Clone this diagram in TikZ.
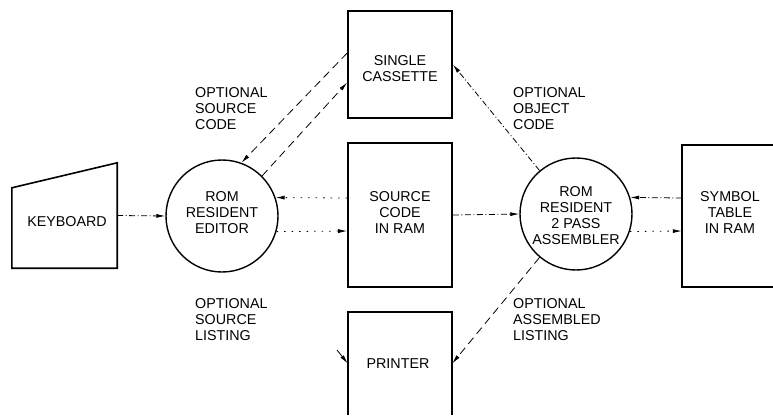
\documentclass[tikz,border=0pt]{standalone}
\usepackage{fontspec}
\setmainfont{Liberation Sans}
\usetikzlibrary{arrows.meta,calc}
\begin{document}
\begin{tikzpicture}[x=1pt,y=-1pt,
  box/.style={draw, line width=1.6pt, minimum width=104pt, inner sep=0pt},
  proc/.style={draw, circle, line width=1.4pt, minimum size=112pt, inner sep=0pt},
  txt/.style={font=\fontsize{14.3}{16}\selectfont, align=center, inner sep=0pt},
  lbl/.style={font=\fontsize{14.3}{16}\selectfont, align=left, inner sep=0pt, anchor=north west},
  conn/.style={line width=0.8pt, -{Latex[length=9pt,width=4pt]}},
  dashdot/.style={dash pattern=on 6pt off 2.5pt on 1pt off 2.5pt},
  longdash/.style={dash pattern=on 8pt off 5pt},
  sparse/.style={dash pattern=on 1.5pt off 6pt}]
\useasboundingbox (0,0) rectangle (773,415);
% boxes
\node[box, minimum height=107pt] (cas) at (400,64.5) {};
\node[txt] (castxt) at (400,69) {SINGLE\\CASSETTE};
\node[box, minimum height=144pt] (src) at (400,215) {};
\node[txt] (srctxt) at (400,213) {SOURCE\\CODE\\IN RAM};
\node[minimum width=104pt, minimum height=103pt, inner sep=0pt] (prn) at (400,363.5) {};
\draw[line width=1.6pt] (prn.south west) -- (prn.north west) -- (prn.north east) -- (prn.south east);
\node[txt] (prntxt) at (398,364) {PRINTER};
\node[minimum width=91pt, minimum height=142pt, inner sep=0pt] (sym) at (727.5,216) {};
\draw[line width=1.6pt] (sym.north east) -- (sym.north west) -- (sym.south west) -- (sym.south east);
\node[txt] (symtxt) at (730,213) {SYMBOL\\TABLE\\IN RAM};
\node[minimum width=105pt, minimum height=105pt, inner sep=0pt] (kbd) at (64.5,215.5) {};
\draw[line width=1.6pt] (kbd.south west) -- ([yshift=-25pt]kbd.north west) -- (kbd.north east) -- (kbd.south east) -- cycle;
\node[txt] (kbdtxt) at (67,222) {KEYBOARD};
% processes
\node[proc] (ed) at (222,216) {};
\node[txt] (edtxt) at (222,213) {ROM\\RESIDENT\\EDITOR};
\node[proc] (asm) at (576,214) {};
\node[txt] (asmtxt) at (576,216) {ROM\\RESIDENT\\2 PASS\\ASSEMBLER};
% connectors
\draw[conn, dashdot] (kbd.east) -- (ed.west);
\draw[conn, sparse] ([yshift=17pt]src.west) -- (ed.19);
\draw[conn, sparse] (ed.-16) -- ([yshift=-16pt]src.west);
\draw[conn, dashdot] (src.east) -- (asm.west);
\draw[conn, dashdot] ([yshift=18pt]sym.west) -- (asm.17);
\draw[conn, sparse] (asm.-18) -- ([yshift=-15pt]sym.west);
\draw[conn, longdash] ([yshift=11.5pt]cas.west) -- (ed.70);
\draw[conn, longdash] (ed.45) -- ([yshift=-18pt]cas.west);
\draw[conn, dashdot] (asm.130) -- (cas.east);
\draw[conn, longdash] (asm.230) -- (prn.east);
\coordinate (prnin) at (337,350);
\draw[conn] (prnin) -- (prn.west);
% labels
\node[lbl] (l1) at (195,87) {OPTIONAL\\SOURCE\\CODE};
\node[lbl] (l2) at (513,87) {OPTIONAL\\OBJECT\\CODE};
\node[lbl] (l3) at (195,298) {OPTIONAL\\SOURCE\\LISTING};
\node[lbl] (l4) at (513,298) {OPTIONAL\\ASSEMBLED\\LISTING};
\end{tikzpicture}
\end{document}
